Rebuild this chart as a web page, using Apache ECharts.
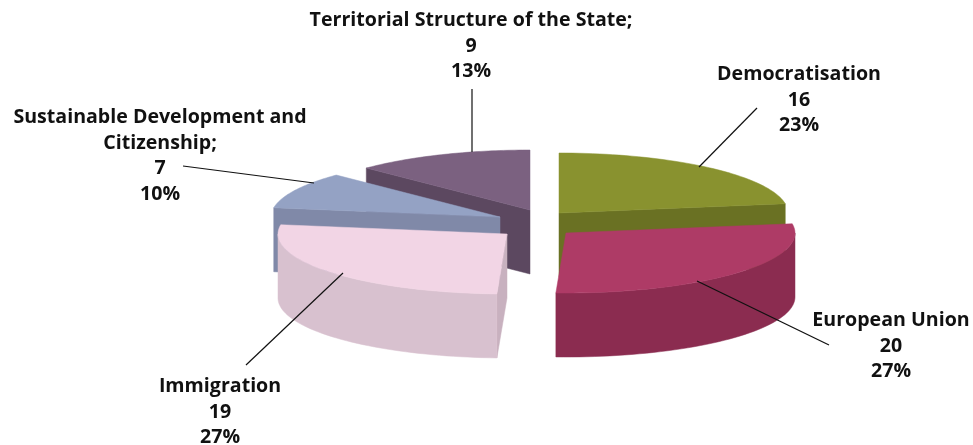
<!DOCTYPE html>
<html>
<head>
<meta charset="utf-8">
<style>
  html, body { margin: 0; padding: 0; background: #fff; }
  #chart { width: 973px; height: 445px; }
</style>
<script src="https://cdn.jsdelivr.net/npm/echarts@6/dist/echarts.min.js"></script>
</head>
<body>
<div id="chart"></div>
<script>
// Data. Percentages are the printed ones.
var categories = ['Democratisation', 'European Union', 'Immigration', 'Sustainable Development and\nCitizenship;', 'Territorial Structure of the State;'];
var values = [16, 20, 19, 7, 9];
var percents = [23, 27, 27, 10, 13];

var topColors = ['#89922f', '#ae3b66', '#f2d5e5', '#94a2c4', '#7b6180'];
var wallColors = ['#6a7123', '#8b2c50', '#d8c1cf', '#8089a8', '#5c4860'];
var faceColors = ['#6a7123', '#8b2c50', '#c8b1bf', '#8089a8', '#5c4860'];

// Back slices first so the front ones overlap them.
var drawOrder = [4, 3, 0, 2, 1];

// Fake 3D: ellipse radii and the thickness of the pie.
var RX = 229, RY = 60, DEPTH = 64;

// Exploded apex of each slice, in pixels.
var apexX = [559, 566, 507, 500, 530];
var apexY = [213, 233, 234, 217, 210];

// Label centre, first baseline centre, then leader line [x1, y1, x2, y2].
var labelX = [799, 891, 220, 160, 471];
var labelY = [74, 320, 386, 117, 20];
var leaders = [
    [757, 108, 699, 167],
    [829, 345, 697, 281],
    [246, 365, 343, 273],
    [183, 166, 314, 183],
    [472, 89, 472, 152]
];

var total = values.reduce(function (a, b) { return a + b; }, 0);

// Start and end angle of each slice, clockwise from 12 o'clock.
var angles = [];
values.reduce(function (acc, v) {
    var next = acc + v / total * Math.PI * 2;
    angles.push([acc, next]);
    return next;
}, 0);

function arcPoint(i, t, drop) {
    return [apexX[i] + RX * Math.sin(t), apexY[i] - RY * Math.cos(t) + (drop || 0)];
}

function arcPoints(i, a, b, drop) {
    var pts = [], steps = 48;
    for (var s = 0; s <= steps; s++) pts.push(arcPoint(i, a + (b - a) * s / steps, drop));
    return pts;
}

function poly(points, color) {
    return {
        type: 'polygon', silent: true,
        shape: { points: points },
        style: { fill: color, stroke: color, lineWidth: 0.5 }
    };
}

function radialFace(i, t) {
    var apex = [apexX[i], apexY[i]];
    return poly([apex, arcPoint(i, t), arcPoint(i, t, DEPTH), [apex[0], apex[1] + DEPTH]], faceColors[i]);
}

function renderSlice(params, api) {
    var i = api.value(0);
    var a = angles[i][0], b = angles[i][1];
    var children = [];

    // Side faces that look towards the viewer.
    if (Math.sin(a) < -1e-6) children.push(radialFace(i, a));
    if (Math.sin(b) > 1e-6) children.push(radialFace(i, b));

    // Outer wall, only on the front half of the ellipse.
    var w1 = Math.max(a, Math.PI / 2), w2 = Math.min(b, Math.PI * 1.5);
    if (w2 > w1) {
        children.push(poly(arcPoints(i, w1, w2).concat(arcPoints(i, w2, w1, DEPTH)), wallColors[i]));
    }

    // Top face.
    children.push(poly([[apexX[i], apexY[i]]].concat(arcPoints(i, a, b)), topColors[i]));
    return { type: 'group', children: children };
}

function renderLabel(params, api) {
    var i = api.value(0);
    var l = leaders[i];
    return {
        type: 'group',
        children: [
            {
                type: 'line', silent: true,
                shape: { x1: l[0], y1: l[1], x2: l[2], y2: l[3] },
                style: { stroke: '#111', lineWidth: 1.2 }
            },
            {
                type: 'text', silent: true,
                x: labelX[i], y: labelY[i] - 12,
                style: {
                    text: categories[i] + '\n' + values[i] + '\n' + percents[i] + '%',
                    font: 'bold 19.6px "Open Sans"',
                    fill: '#111',
                    align: 'center',
                    verticalAlign: 'top',
                    lineHeight: 25.5
                }
            }
        ]
    };
}

var chart = echarts.init(document.getElementById('chart'), null, { renderer: 'canvas' });
chart.setOption({
    animation: false,
    backgroundColor: '#fff',
    series: [
        {
            type: 'custom', coordinateSystem: 'none', silent: true,
            renderItem: renderSlice,
            data: drawOrder.map(function (i) { return [i, values[i]]; }),
            z: 1
        },
        {
            type: 'custom', coordinateSystem: 'none', silent: true,
            renderItem: renderLabel,
            data: drawOrder.map(function (i) { return [i, values[i]]; }),
            z: 2
        }
    ]
});
</script>
</body>
</html>
